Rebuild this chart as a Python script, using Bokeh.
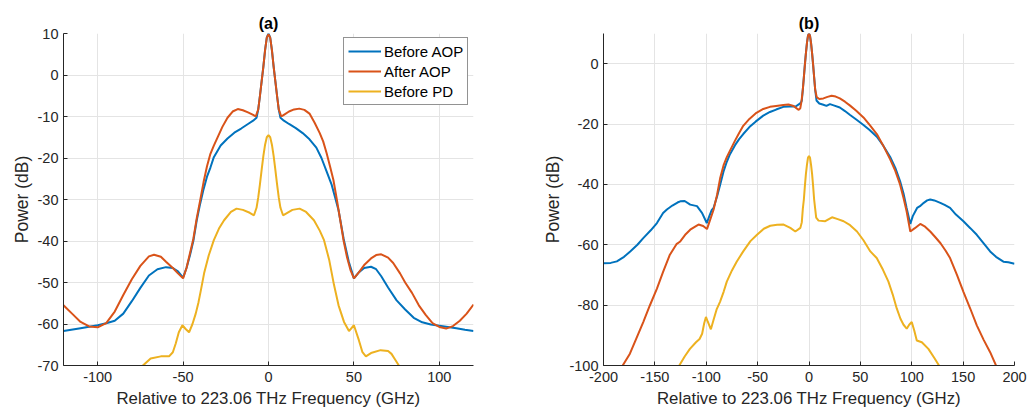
from bokeh.plotting import figure
from bokeh.layouts import row
from bokeh.models import Range1d, FixedTicker, Legend, LegendItem, PrintfTickFormatter
from bokeh.embed import file_html
from bokeh.resources import INLINE

# ---------------- Panel (a) data ----------------
a_before_aop_x = [-120, -110, -100, -95, -90, -85, -80, -75, -70, -65, -60, -56, -53, -50, -48, -46, -44, -42, -40, -38, -36, -34, -32, -28, -24, -20, -16, -12, -9, -7, -6, -5, -4, -3, -2, -1, 0,
                  1, 2, 3, 4, 5, 6, 7, 9, 12, 16, 20, 24, 28, 31, 34, 37, 39, 41, 44, 47, 50, 53, 56, 60, 63, 66, 70, 75, 80, 85, 90, 95, 100, 105, 110, 115, 120]
a_before_aop_y = [-61.7, -61.0, -60.3, -59.8, -59.2, -57.5, -54.5, -51.3, -48.3, -46.8, -46.3, -46.5, -47.3, -48.8, -46.5, -43.5, -40.0, -35.0, -31.0, -27.5, -24.5, -22.3, -19.8, -17.0, -15.3, -13.9, -12.9, -11.8, -11.0, -10.3, -8.3, -5.0, -1.5, 2.0, 6.0, 9.0, 10.0,
                  9.0, 6.0, 2.0, -1.5, -5.0, -8.3, -10.3, -11.0, -11.8, -12.8, -14.0, -15.5, -17.5, -20.0, -23.2, -26.5, -29.5, -32.6, -39.5, -45.0, -49.0, -47.5, -46.5, -46.2, -46.8, -48.5, -51.2, -54.3, -56.5, -58.5, -59.6, -60.1, -60.4, -60.7, -61.0, -61.4, -61.7]

a_after_aop_x = [-120, -115, -110, -105, -100, -95, -90, -85, -80, -75, -70, -67, -63, -60, -56, -53, -50, -48, -46, -44, -42, -40, -38, -36, -34, -32, -30, -27, -24, -21, -18, -15, -12, -9, -7.5, -6, -5, -4, -3, -2, -1, 0,
                 1, 2, 3, 4, 5, 6, 7.5, 9, 12, 15, 18, 21, 24, 27, 30, 32, 34, 36, 38, 40, 42, 44, 46, 48, 50, 53, 56, 60, 63, 66, 70, 73, 77, 80, 84, 88, 92, 96, 100, 104, 108, 112, 116, 120]
a_after_aop_y = [-55.5, -57.5, -59.5, -60.6, -60.8, -59.8, -57.0, -53.0, -49.2, -46.0, -43.7, -43.3, -43.8, -45.0, -46.5, -47.8, -49.0, -46.5, -43.0, -39.5, -34.5, -30.2, -25.8, -22.0, -19.0, -17.0, -15.2, -12.5, -10.3, -8.8, -8.2, -8.5, -9.0, -9.6, -10.0, -8.3, -5.0, -1.5, 2.0, 6.0, 9.0, 9.8,
                 9.0, 6.0, 2.0, -1.5, -5.0, -8.3, -10.0, -9.6, -8.8, -8.3, -8.1, -8.4, -9.3, -11.5, -14.0, -16.0, -18.8, -22.0, -25.3, -30.0, -35.0, -40.0, -44.0, -47.0, -49.0, -47.5, -45.8, -44.2, -43.4, -43.2, -44.0, -45.3, -47.8, -50.0, -52.5, -55.5, -57.8, -59.8, -60.7, -61.1, -60.5, -59.2, -57.5, -55.3]

a_before_pd_x = [-80, -74, -69, -63, -58.2, -56, -54.3, -52.5, -50.4, -48.5, -46.5, -44.5, -42.6, -41, -39.6, -37.7, -35, -32, -29, -26, -22, -18.7, -15, -11, -8.5, -7, -6, -5, -4, -3, -2, -1, 0,
                 1, 2, 3, 4, 5, 6, 7, 8.5, 11, 14, 18.2, 22, 26.6, 30, 32.5, 35.5, 38.3, 41, 44.2, 47.1, 50, 52.9, 55, 57, 60, 65.6, 70, 72, 74, 76.3, 80]
a_before_pd_y = [-73.5, -70.2, -68.3, -67.8, -67.8, -66.8, -64.7, -62.0, -60.3, -61.2, -62.0, -60.0, -57.5, -54.8, -51.9, -47.8, -43.5, -39.8, -37.0, -35.0, -33.0, -32.2, -32.5, -33.2, -33.8, -32.0, -29.5, -26.3, -22.8, -19.5, -16.8, -15.0, -14.5,
                 -15.0, -16.8, -19.5, -22.8, -26.3, -29.5, -32.0, -33.8, -33.2, -32.5, -32.2, -33.0, -35.0, -37.5, -39.8, -44.5, -50.5, -55.5, -59.5, -61.7, -60.3, -63.9, -66.8, -67.8, -67.0, -66.3, -66.5, -67.2, -68.5, -70.0, -73.5]

a_xticks = [-100, -50, 0, 50, 100]
a_yticks = [-70, -60, -50, -40, -30, -20, -10, 0, 10]

# ---------------- Panel (b) data ----------------
b_before_aop_x = [-200, -193, -187, -180, -174, -167, -161.3, -154, -148, -142, -138.3, -133, -128, -125.3, -121, -115.6, -109, -104, -99.5, -97, -94.7, -92.9, -89.5, -86.4, -83, -80, -76.9, -72, -68, -64, -58, -52, -44.5, -38, -32, -25, -19, -13, -10, -8, -7, -6, -5, -4, -3, -2, -1, 0,
                  1, 2, 3, 4, 5, 6, 7.3, 10, 14, 17, 20.4, 24, 30, 35, 40, 46, 53, 59, 66, 72, 79, 84, 88.6, 92, 95, 98.6, 101, 105.2, 108, 111.7, 115, 118, 122, 127.8, 132, 137.3, 143, 150.3, 157, 163.3, 170, 176.3, 182, 189.2, 194, 200]
b_before_aop_y = [-66.1, -66.0, -65.5, -64.0, -62.2, -60.0, -57.8, -55.2, -52.8, -49.5, -48.3, -47.0, -46.0, -45.6, -45.5, -46.7, -47.2, -49.5, -52.8, -50.5, -48.5, -47.8, -44.0, -40.0, -35.5, -32.5, -30.0, -27.0, -25.0, -23.3, -21.0, -19.2, -17.2, -16.0, -15.2, -14.3, -14.2, -14.2, -13.5, -13.0, -12.2, -8.5, -4.5, -0.3, 3.5, 6.8, 9.2, 10.0,
                  9.2, 6.8, 3.5, -0.3, -4.5, -8.5, -12.2, -13.2, -13.6, -14.0, -13.4, -13.8, -14.5, -15.7, -17.0, -18.5, -20.3, -22.0, -24.2, -27.0, -30.9, -34.5, -38.9, -43.0, -47.8, -53.1, -50.5, -47.8, -47.2, -46.1, -45.3, -45.0, -45.3, -46.1, -46.8, -47.8, -50.0, -52.2, -54.5, -56.7, -59.5, -62.2, -64.0, -65.6, -65.8, -66.3]

b_after_aop_x = [-190, -182.4, -174.3, -168, -161.3, -155, -148, -142, -135.4, -129, -125.3, -120, -115.6, -110, -107.5, -103, -99.3, -96, -92.9, -89.5, -86.5, -83, -80, -77, -72, -68, -64, -58, -52, -44.5, -38, -32, -25, -20, -15, -12, -10, -8.5, -7.3, -6, -5, -4, -3, -2, -1, 0,
                 1, 2, 3, 4, 5, 6, 7.5, 10, 14, 18, 22, 26, 30, 35, 40, 46, 53, 59, 66, 72, 79, 84, 88.6, 92, 95, 98.6, 103, 108.3, 113, 118, 123, 128, 133, 137.3, 144, 150.3, 157, 163.3, 170, 176.3, 182.8, 190]
b_after_aop_y = [-104.0, -100.6, -96.1, -91.0, -85.6, -80.2, -74.5, -69.0, -63.3, -59.8, -58.9, -56.5, -55.0, -53.8, -53.3, -53.8, -54.8, -51.5, -48.4, -43.5, -38.0, -33.5, -31.0, -28.9, -25.5, -23.0, -20.6, -18.3, -16.5, -15.0, -14.3, -14.0, -13.7, -13.5, -14.0, -14.8, -15.3, -14.8, -12.5, -8.5, -4.5, -0.3, 3.5, 6.8, 9.2, 10.0,
                 9.2, 6.8, 3.5, -0.3, -4.5, -8.5, -11.1, -11.7, -11.5, -11.0, -10.6, -10.9, -11.5, -12.6, -13.9, -15.6, -17.8, -20.3, -23.3, -27.0, -31.7, -35.5, -40.0, -44.5, -48.9, -55.6, -54.5, -53.1, -54.0, -55.6, -57.5, -59.5, -62.0, -64.4, -70.0, -75.6, -81.2, -86.7, -91.5, -95.6, -100.6, -104.0]

b_before_pd_x = [-135, -127.3, -121, -115.9, -110, -106.5, -104, -102, -100.3, -98.5, -95.5, -93, -90, -86.6, -83, -80, -75, -70.4, -64, -57, -50.6, -44, -37.7, -31, -24.7, -18.2, -13.3, -8.4, -7, -6, -5, -4, -3, -2, -1, 0,
                 1, 2, 3, 4, 5, 6, 7, 9.3, 15.8, 22.4, 28, 33.7, 40, 46.7, 53, 59.7, 65.9, 72, 77.3, 81.5, 85.4, 89, 92, 95.1, 97.5, 100, 102.5, 104.9, 109.8, 116.2, 122, 127.6, 135]
b_before_pd_y = [-104.0, -100.6, -97.0, -94.5, -92.3, -91.2, -89.5, -86.0, -83.9, -85.5, -88.0, -85.0, -81.5, -78.9, -75.5, -72.2, -68.5, -65.6, -62.2, -58.8, -56.7, -54.7, -53.7, -53.4, -53.3, -54.4, -55.6, -54.4, -52.5, -48.0, -45.0, -40.5, -36.5, -33.5, -31.2, -30.6,
                 -31.2, -33.5, -36.5, -40.5, -45.0, -48.0, -51.0, -52.0, -52.2, -50.9, -51.5, -52.2, -53.5, -55.6, -58.5, -62.2, -64.4, -68.3, -72.2, -76.5, -81.1, -84.5, -86.5, -87.8, -86.5, -85.6, -88.5, -91.7, -92.3, -94.5, -97.5, -100.6, -104.0]

b_xticks = [-200, -150, -100, -50, 0, 50, 100, 150, 200]
b_yticks = [-100, -80, -60, -40, -20, 0]

series_labels = ["Before AOP", "After AOP", "Before PD"]
series_colors = ["#0072BD", "#D95319", "#EDB120"]

FONT = "Liberation Sans"
TXT = "#262626"
GRID = "#e4e4e4"


def style(p, xticks, yticks, xlabel, ylabel):
    p.outline_line_color = None
    p.background_fill_color = "white"
    p.border_fill_color = "white"
    p.title.align = "center"
    p.title.text_font = FONT
    p.title.text_font_style = "bold"
    p.title.text_font_size = "16px"
    p.title.text_color = "black"
    p.title.standoff = 3
    p.xaxis.ticker = FixedTicker(ticks=xticks)
    p.yaxis.ticker = FixedTicker(ticks=yticks)
    p.xaxis.formatter = PrintfTickFormatter(format="%d")
    p.yaxis.formatter = PrintfTickFormatter(format="%d")
    for ax in (p.xaxis[0], p.yaxis[0]):
        ax.axis_line_color = TXT
        ax.axis_line_width = 1
        ax.major_tick_line_color = TXT
        ax.major_tick_in = 4
        ax.major_tick_out = 0
        ax.minor_tick_line_color = None
        ax.major_label_text_font = FONT
        ax.major_label_text_font_size = "14.5px"
        ax.major_label_text_color = TXT
        ax.axis_label_text_font = FONT
        ax.axis_label_text_font_style = "normal"
        ax.axis_label_text_color = TXT
    p.xaxis.axis_label = xlabel
    p.yaxis.axis_label = ylabel
    p.xaxis.axis_label_text_font_size = "16.8px"
    p.yaxis.axis_label_text_font_size = "17.5px"
    p.xaxis.major_label_standoff = 6
    p.xaxis.axis_label_standoff = 4
    p.yaxis.major_label_standoff = 5
    p.yaxis.axis_label_standoff = 3
    p.xgrid.grid_line_color = GRID
    p.ygrid.grid_line_color = GRID
    p.xgrid.grid_line_width = 1
    p.ygrid.grid_line_width = 1


XLABEL = "Relative to 223.06 THz Frequency (GHz)"
YLABEL = "Power (dB)"

pa = figure(width=528, height=412, output_backend="svg", toolbar_location=None,
            x_range=Range1d(-120, 120), y_range=Range1d(-70, 10),
            min_border_left=63, min_border_right=55, min_border_top=33, min_border_bottom=47,
            title="(a)")
style(pa, a_xticks, a_yticks, XLABEL, YLABEL)

renderers = []
for xs, ys, c in [(a_before_aop_x, a_before_aop_y, series_colors[0]),
                  (a_after_aop_x, a_after_aop_y, series_colors[1]),
                  (a_before_pd_x, a_before_pd_y, series_colors[2])]:
    renderers.append(pa.line(xs, ys, line_color=c, line_width=2))

legend = Legend(items=[LegendItem(label=lab, renderers=[r]) for lab, r in zip(series_labels, renderers)],
                location=(280, 260))
legend.label_text_font = FONT
legend.label_text_font_size = "15px"
legend.label_text_color = "black"
legend.border_line_color = TXT
legend.border_line_width = 1
legend.background_fill_color = "white"
legend.background_fill_alpha = 1
legend.padding = 4
legend.margin = 0
legend.spacing = 2
legend.label_height = 18
legend.glyph_height = 18
legend.glyph_width = 33
legend.label_standoff = 3
pa.add_layout(legend)

pb = figure(width=508, height=412, output_backend="svg", toolbar_location=None,
            x_range=Range1d(-200, 200), y_range=Range1d(-100, 10),
            min_border_left=75, min_border_right=22, min_border_top=33, min_border_bottom=47,
            title="(b)")
style(pb, b_xticks, b_yticks, XLABEL, YLABEL)

for xs, ys, c in [(b_before_aop_x, b_before_aop_y, series_colors[0]),
                  (b_after_aop_x, b_after_aop_y, series_colors[1]),
                  (b_before_pd_x, b_before_pd_y, series_colors[2])]:
    pb.line(xs, ys, line_color=c, line_width=2)

layout = row(pa, pb)
open("out.html", "w").write(file_html(layout, INLINE))
